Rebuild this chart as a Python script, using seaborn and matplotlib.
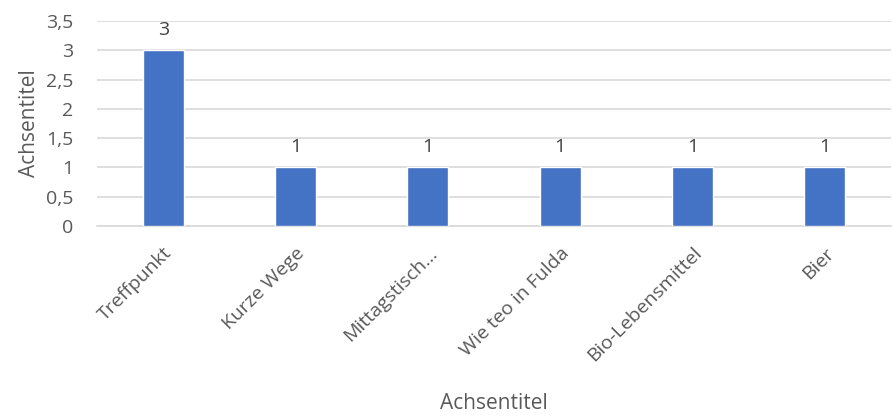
import pandas as pd
import matplotlib
matplotlib.use("Agg")
import matplotlib.pyplot as plt
import seaborn as sns
from matplotlib.ticker import FuncFormatter

categories = ["Treffpunkt", "Kurze Wege", "Mittagstisch...", "Wie teo in Fulda", "Bio-Lebensmittel", "Bier"]
counts = [3, 1, 1, 1, 1, 1]
y_ticks = [0, 0.5, 1, 1.5, 2, 2.5, 3, 3.5]

df = pd.DataFrame({"kategorie": categories, "anzahl": counts})

sns.set_style("white")
plt.rcParams["font.family"] = ["Open Sans", "DejaVu Sans"]

fig = plt.figure(figsize=(8.93, 4.17), dpi=100)
ax = fig.add_axes([0.1086, 0.458, 0.889, 0.4916])

sns.barplot(data=df, x="kategorie", y="anzahl", color="#4472C4", width=0.31,
            saturation=1, ax=ax, zorder=3)

# Beschriftung über den Balken
for i, v in enumerate(counts):
    ax.text(i, v + 0.2, str(v), ha="center", va="bottom", fontsize=14, color="#404040")

ax.set_ylim(0, 3.5)
ax.set_yticks(y_ticks)
ax.yaxis.set_major_formatter(FuncFormatter(lambda v, p: f"{v:g}".replace(".", ",")))
ax.grid(axis="y", color="#D9D9D9", linewidth=1.2, zorder=0)
for s in ["top", "right", "left"]:
    ax.spines[s].set_visible(False)
ax.spines["bottom"].set_color("#D9D9D9")
ax.spines["bottom"].set_linewidth(1.2)

ax.tick_params(axis="both", length=0, labelsize=14, colors="#595959")
ax.tick_params(axis="y", pad=17)
plt.setp(ax.get_xticklabels(), rotation=45, ha="right", rotation_mode="anchor")
ax.tick_params(axis="x", pad=13)

ax.set_xlabel("Achsentitel", fontsize=15, color="#595959", labelpad=20)
ax.set_ylabel("Achsentitel", fontsize=15, color="#595959", labelpad=4)

fig.savefig("out.png", dpi=100)
